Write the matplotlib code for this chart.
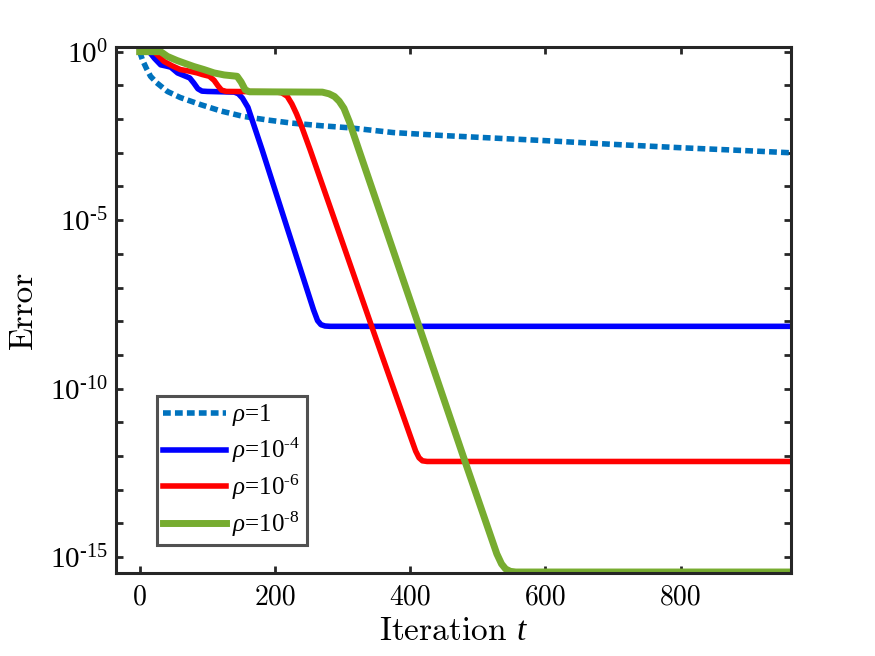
import matplotlib

matplotlib.use("Agg")

import matplotlib.pyplot as plt
import numpy as np
from matplotlib.ticker import FixedLocator, FixedFormatter, NullFormatter

# iteration / log10(error) points
t_rho1 = [0, 4, 10, 16, 25, 41, 60, 90, 120, 153, 190, 225, 270, 311, 375, 450, 530, 600, 700, 800, 900, 963]
e_rho1 = [0, -0.24, -0.5, -0.73, -0.92, -1.18, -1.36, -1.57, -1.76, -1.92, -2.03, -2.12, -2.20, -2.26,
          -2.40, -2.49, -2.57, -2.64, -2.75, -2.85, -2.94, -3.0]

t_rho4 = [0, 14, 22, 31, 40, 46, 56, 68, 74, 80, 86, 92, 100, 140, 146, 152, 160, 181, 220, 257, 263,
          268, 274, 282, 963]
e_rho4 = [0, 0, -0.2, -0.39, -0.43, -0.46, -0.63, -0.73, -0.78, -0.93, -1.1, -1.17, -1.18, -1.2, -1.25,
          -1.38, -1.65, -2.91, -5.35, -7.66, -7.98, -8.1, -8.14, -8.15, -8.15]

t_rho6 = [0, 21, 28, 36, 48, 60, 74, 85, 93, 103, 110, 116, 121, 128, 200, 210, 218, 225, 232, 240,
          252, 300, 343, 400, 408, 413, 418, 425, 963]
e_rho6 = [0, 0, -0.13, -0.29, -0.42, -0.53, -0.58, -0.63, -0.68, -0.73, -0.85, -1.02, -1.14, -1.18,
          -1.19, -1.22, -1.32, -1.55, -1.85, -2.25, -2.91, -5.67, -8.15, -11.4, -11.85, -12.05, -12.14,
          -12.16, -12.16]

t_rho8 = [0, 31, 41, 55, 66, 80, 95, 110, 125, 144, 150, 156, 162, 270, 280, 288, 295, 302, 310, 324,
          420, 481, 528, 535, 541, 548, 556, 963]
e_rho8 = [0, 0, -0.14, -0.26, -0.34, -0.44, -0.53, -0.63, -0.69, -0.73, -0.9, -1.13, -1.19, -1.2,
          -1.25, -1.33, -1.47, -1.68, -2.08, -2.91, -8.56, -12.16, -14.9, -15.2, -15.35, -15.42, -15.44,
          -15.44]

labels = [r"$\rho$=1", r"$\rho$=10$^{\text{-4}}$", r"$\rho$=10$^{\text{-6}}$", r"$\rho$=10$^{\text{-8}}$"]
ytick_vals = [1e-15, 1e-10, 1e-5, 1e0]
ytick_labels = [r"10$^{\text{-15}}$", r"10$^{\text{-10}}$", r"10$^{\text{-5}}$", r"10$^{\text{0}}$"]
xtick_vals = [0, 200, 400, 600, 800]

plt.rcParams["font.family"] = ["Liberation Serif", "DejaVu Serif"]
plt.rcParams["mathtext.fontset"] = "custom"
plt.rcParams["mathtext.rm"] = "Liberation Serif"
plt.rcParams["mathtext.it"] = "Liberation Serif:italic"
plt.rcParams["axes.unicode_minus"] = False

dark = "#262626"

fig = plt.figure(figsize=(8.75, 6.56), dpi=100)
ax = fig.add_axes([0.1326, 0.1265, 0.7714, 0.8019])

ax.plot(t_rho1, 10.0 ** np.array(e_rho1), color="#0072BD", lw=4, linestyle=(0, (1.4, 0.75)),
        dash_capstyle="butt", label=labels[0])
ax.plot(t_rho4, 10.0 ** np.array(e_rho4), color="#0000FF", lw=4, solid_joinstyle="round", label=labels[1])
ax.plot(t_rho6, 10.0 ** np.array(e_rho6), color="#FF0000", lw=4, solid_joinstyle="round", label=labels[2])
ax.plot(t_rho8, 10.0 ** np.array(e_rho8), color="#77AC30", lw=5, solid_joinstyle="round", label=labels[3])

ax.set_yscale("log")
ax.set_xlim(-35, 963)
ax.set_ylim(10 ** -15.47, 10 ** 0.14)

ax.yaxis.set_major_locator(FixedLocator(ytick_vals))
ax.yaxis.set_major_formatter(FixedFormatter(ytick_labels))
ax.yaxis.set_minor_locator(FixedLocator([10.0 ** -k for k in range(16)]))
ax.yaxis.set_minor_formatter(NullFormatter())
ax.set_xticks(xtick_vals)
ax.set_xticklabels([str(v) for v in xtick_vals], fontfamily="cmr10")

ax.tick_params(which="both", direction="in", top=True, right=True, length=5, width=2,
               colors=dark, labelsize=20, labelcolor="black")
ax.tick_params(axis="x", pad=8)
ax.tick_params(axis="y", labelsize=21, pad=6)
for s in ax.spines.values():
    s.set_linewidth(2.2)
    s.set_color(dark)

ax.set_xlabel("Iteration $\\it{t}$", fontsize=24, fontfamily="cmr10", labelpad=5)
ax.set_ylabel("Error", fontsize=24, fontfamily="cmr10", labelpad=9)

leg = ax.legend(loc="lower left", bbox_to_anchor=(0.0607, 0.053), fontsize=18, frameon=True,
                fancybox=False, handlelength=2.5, handletextpad=0.25,
                labelspacing=0.3, borderpad=0.25, borderaxespad=0)
leg.get_frame().set_linewidth(2.2)
leg.get_frame().set_edgecolor(dark)

fig.savefig("out.png", dpi=100)
